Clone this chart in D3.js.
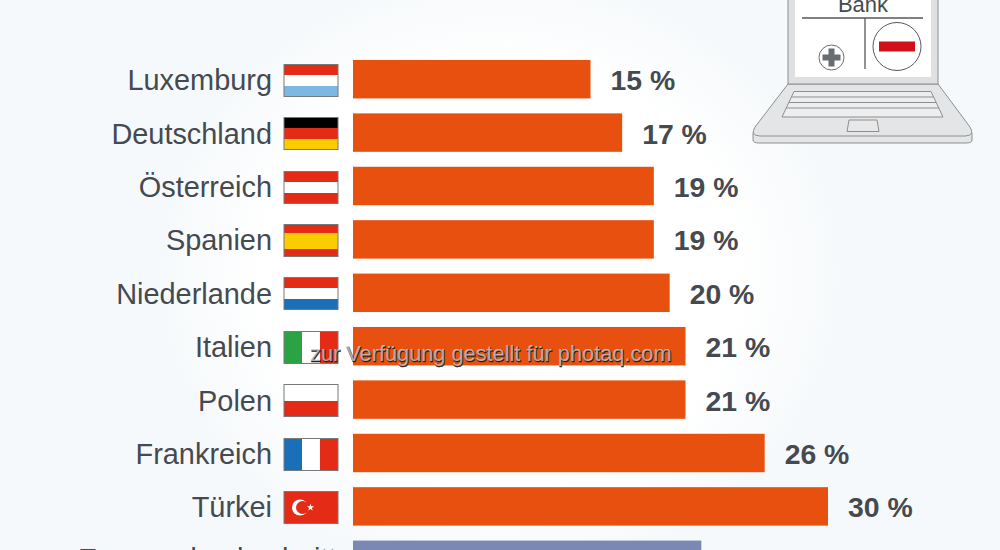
<!DOCTYPE html>
<html>
<head>
<meta charset="utf-8">
<script src="https://cdn.jsdelivr.net/npm/d3@7"></script>
<style>
  html, body { margin: 0; padding: 0; background: #f6f9fb; overflow: hidden; }
  svg { display: block; }
  text { font-family: "Liberation Sans", Arial, sans-serif; }
</style>
</head>
<body>
<svg id="chart" width="1000" height="550"></svg>
<script>
const countries = ["Luxemburg", "Deutschland", "Österreich", "Spanien", "Niederlande", "Italien", "Polen", "Frankreich", "Türkei", "Europa-durchschnitt"];
const shares = [15, 17, 19, 19, 20, 21, 21, 26, 30, 22];

// flag stripes, top to bottom or left to right
const flagStripes = [
  ["#e32b16", "#ffffff", "#7db8e4"],
  ["#000000", "#e32b16", "#fbcc00"],
  ["#e32b16", "#ffffff", "#e32b16"],
  ["#e32b16", "#fbcc00", "#fbcc00", "#e32b16"],
  ["#e32b16", "#ffffff", "#1a6fb8"],
  ["#2ba343", "#ffffff", "#e32b16"],
  ["#ffffff", "#e32b16"],
  ["#1a6fb8", "#ffffff", "#e32b16"],
  ["#e32b16"],
  []
];
const flagVertical = ["Italien", "Frankreich"];

const svg = d3.select("#chart");

// soft white glow behind the bars
const defs = svg.append("defs");
const glow = defs.append("radialGradient").attr("id", "glow");
glow.append("stop").attr("offset", "0%").attr("stop-color", "#ffffff");
glow.append("stop").attr("offset", "70%").attr("stop-color", "#ffffff");
glow.append("stop").attr("offset", "100%").attr("stop-color", "#f6f9fb");
svg.append("rect").attr("width", 1000).attr("height", 550).attr("fill", "#f6f9fb");
svg.append("ellipse").attr("cx", 500).attr("cy", 275).attr("rx", 340).attr("ry", 300).attr("fill", "url(#glow)");

const x = d3.scaleLinear().domain([0, 30]).range([353, 828]);
const y = d3.scaleBand().domain(countries).range([52.5, 586.5]).paddingInner(0.28).paddingOuter(0.14);
const last = countries[countries.length - 1];

// the last row's text sits a little higher than the regular spacing
const textY = d => y(d) + y.bandwidth() / 2 + (d === last ? 9 : 11);

const rows = svg.selectAll("g.row")
  .data(countries)
  .join("g")
  .attr("class", "row");

rows.append("rect")
  .attr("x", x(0))
  .attr("y", d => y(d))
  .attr("width", (d, i) => x(shares[i]) - x(0))
  .attr("height", y.bandwidth())
  .attr("fill", (d, i) => i === 9 ? "#7b88b4" : "#e8500f");

rows.append("text")
  .attr("x", d => d === last ? 78 : 272)
  .attr("y", textY)
  .attr("text-anchor", d => d === last ? "start" : "end")
  .attr("font-size", 28.9)
  .attr("fill", "#454a50")
  .text(d => d);

rows.append("text")
  .attr("x", (d, i) => x(shares[i]) + 20)
  .attr("y", textY)
  .attr("font-size", 28.4)
  .attr("font-weight", "bold")
  .attr("fill", "#454a50")
  .text((d, i) => shares[i] + " %");

// flags
const flagW = 54, flagH = 32;
countries.forEach((c, i) => {
  const stripes = flagStripes[i];
  if (!stripes.length) return;
  const fy = Math.round(y(c) + (y.bandwidth() - flagH) / 2 + 0.5) + 0.5;
  const flag = svg.append("g").attr("transform", `translate(284,${fy})`);
  const vertical = flagVertical.includes(c);
  const band = d3.scaleBand().domain(d3.range(stripes.length)).range([0, vertical ? flagW : flagH]);
  flag.selectAll("rect")
    .data(stripes)
    .join("rect")
    .attr("x", (d, k) => vertical ? band(k) : 0)
    .attr("y", (d, k) => vertical ? 0 : band(k))
    .attr("width", vertical ? band.bandwidth() : flagW)
    .attr("height", vertical ? flagH : band.bandwidth())
    .attr("shape-rendering", "crispEdges")
    .attr("fill", d => d);
  flag.append("rect")
    .attr("width", flagW).attr("height", flagH)
    .attr("fill", "none").attr("stroke", "#77797c").attr("stroke-width", 1);
  if (c === "Türkei") {
    flag.append("circle").attr("cx", 16).attr("cy", 16).attr("r", 8).attr("fill", "#ffffff");
    flag.append("circle").attr("cx", 18.5).attr("cy", 16).attr("r", 6.5).attr("fill", "#e32b16");
    flag.append("path")
      .attr("transform", "translate(26.5,16)")
      .attr("d", d3.symbol(d3.symbolStar, 16))
      .attr("fill", "#ffffff");
  }
});

// laptop
const laptop = svg.append("g");
const lineCol = "#8c8f91";
laptop.append("path")
  .attr("d", "M788,84 L938,84 L970,127 Q972,130 972,134 L972,140 Q972,143 966,143 L759,143 Q753,143 753,140 L753,134 Q753,130 755,127 Z")
  .attr("fill", "#e4e5e6").attr("stroke", lineCol).attr("stroke-width", 1);
laptop.append("path")
  .attr("d", "M753,133 Q755,136 760,136 L965,136 Q970,136 972,133")
  .attr("fill", "none").attr("stroke", lineCol).attr("stroke-width", 1);
laptop.append("rect").attr("x", 788).attr("y", -10).attr("width", 150).attr("height", 94)
  .attr("fill", "#dfe0e1").attr("stroke", lineCol).attr("stroke-width", 1);
laptop.append("rect").attr("x", 795).attr("y", -10).attr("width", 136).attr("height", 87).attr("fill", "#ffffff");
// keyboard
laptop.append("path")
  .attr("d", "M794,91.5 L931,91.5 L943,117 L782,117 Z M791.5,97 L933.5,97 M789,102.5 L936,102.5 M786.5,108 L939,108")
  .attr("fill", "#eeeeef").attr("stroke", lineCol).attr("stroke-width", 1);
laptop.append("path")
  .attr("d", "M849,120 L877,120 L879,131.5 L847,131.5 Z")
  .attr("fill", "#e8e8e9").attr("stroke", lineCol).attr("stroke-width", 1);
// t-account
laptop.append("text").attr("x", 863).attr("y", 12).attr("text-anchor", "middle")
  .attr("font-size", 22).attr("fill", "#454a50").text("Bank");
laptop.append("path").attr("d", "M802,18 L923,18 M865,18 L865,69")
  .attr("fill", "none").attr("stroke", "#55585b").attr("stroke-width", 1.3);
laptop.append("circle").attr("cx", 897).attr("cy", 46.5).attr("r", 24)
  .attr("fill", "#ffffff").attr("stroke", "#55585b").attr("stroke-width", 1);
laptop.append("rect").attr("x", 879).attr("y", 41.5).attr("width", 36).attr("height", 10).attr("fill", "#d2101c");
laptop.append("circle").attr("cx", 831.5).attr("cy", 57.5).attr("r", 12.5)
  .attr("fill", "#ffffff").attr("stroke", "#6a6d70").attr("stroke-width", 1);
laptop.append("path").attr("d", "M822.5,57.5 L840.5,57.5 M831.5,48.5 L831.5,66.5")
  .attr("fill", "none").attr("stroke", "#6a6d70").attr("stroke-width", 6);

// watermark
const mark = "zur Verfügung gestellt für photaq.com";
svg.append("text").attr("x", 310.5).attr("y", 361.5).attr("font-size", 21.75)
  .attr("fill", "#222222").attr("stroke", "#222222").attr("stroke-width", 0.5).text(mark);
svg.append("text").attr("x", 310).attr("y", 361).attr("font-size", 21.75)
  .attr("fill", "#d9d9d9").attr("fill-opacity", 0.75).text(mark);
</script>
</body>
</html>
